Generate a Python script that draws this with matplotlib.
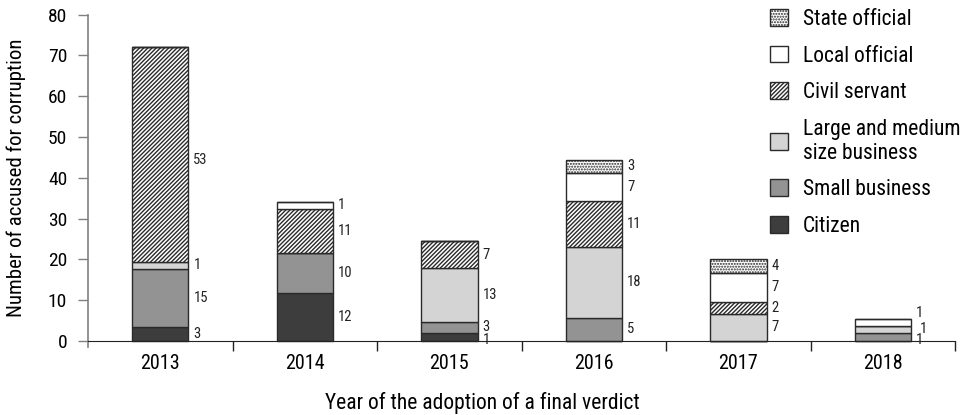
import matplotlib
matplotlib.use("Agg")
import matplotlib.pyplot as plt
import numpy as np

plt.rcParams['font.family'] = ['Roboto Condensed', 'DejaVu Sans']
plt.rcParams['hatch.linewidth'] = 1.0

years = ["2013", "2014", "2015", "2016", "2017", "2018"]

# bar heights as drawn in the figure (bottom to top)
citizen = [3.5, 11.7, 2.0, 0, 0, 0]
small_business = [14.1, 9.9, 2.7, 5.6, 0, 1.9]
large_business = [1.8, 0, 13.1, 17.5, 6.6, 1.8]
civil_servant = [52.7, 10.7, 6.7, 11.2, 3.0, 0]
local_official = [0, 1.8, 0, 6.8, 7.0, 1.7]
state_official = [0, 0, 0, 3.3, 3.5, 0]

# printed numbers next to each segment
citizen_lbl = ["3", "12", "1", "", "", ""]
small_business_lbl = ["15", "10", "3", "5", "", "1"]
large_business_lbl = ["1", "", "13", "18", "7", "1"]
civil_servant_lbl = ["53", "11", "7", "11", "2", ""]
local_official_lbl = ["", "1", "", "7", "7", "1"]
state_official_lbl = ["", "", "", "3", "4", ""]

series = [
    ("Citizen", citizen, citizen_lbl, dict(facecolor="#3d3d3d", hatch=None)),
    ("Small business", small_business, small_business_lbl, dict(facecolor="#939393", hatch=None)),
    ("Large and medium\nsize business", large_business, large_business_lbl, dict(facecolor="#d4d4d4", hatch=None)),
    ("Civil servant", civil_servant, civil_servant_lbl, dict(facecolor="white", hatch="////////")),
    ("Local official", local_official, local_official_lbl, dict(facecolor="white", hatch=None)),
    ("State official", state_official, state_official_lbl, dict(facecolor="white", hatch="......")),
]

# small nudges (points) for crowded labels: (year index, series index)
nudges = {(5, 1): (0, -2.5), (5, 2): (3, 0), (5, 4): (0, 7), (2, 0): (0, -2.5), (0, 3): (0, -4)}

fig = plt.figure(figsize=(9.64, 4.15), dpi=100)
ax = fig.add_axes([0.0913, 0.1639, 0.8997, 0.801])

x = np.arange(len(years))
width = 0.39
bottom = np.zeros(len(years))
handles = []
for si, (name, vals, lbls, style) in enumerate(series):
    vals = np.array(vals, dtype=float)
    bars = ax.bar(x, vals, width, bottom=bottom, edgecolor="#2a2a2a", linewidth=1.0,
                  label=name, **style)
    handles.append(bars)
    for i, (v, t) in enumerate(zip(vals, lbls)):
        if not t:
            continue
        dx, dy = nudges.get((i, si), (0, 0))
        ax.annotate(t, (x[i] + width / 2, bottom[i] + v / 2), xytext=(3.5 + dx, dy),
                    textcoords="offset points", ha="left", va="center", fontsize=10.5, color="#222222")
    bottom += vals

ax.set_xlim(-0.5, 5.5)
ax.set_ylim(-1.5, 80)
ax.set_yticks(range(0, 81, 10))
ax.set_xticks(x)
ax.set_xticklabels(years)
ax.set_xticks(np.arange(0.5, 6, 1), minor=True)
ax.tick_params(axis="x", which="major", length=0, pad=9.5, labelsize=14.5)
ax.tick_params(axis="x", which="minor", length=7, width=1, direction="out", color="#222222")
ax.tick_params(axis="y", length=7, width=1, color="#808080", pad=8, labelsize=14)

for s in ("top", "right"):
    ax.spines[s].set_visible(False)
ax.spines["bottom"].set_position(("data", 0))
ax.spines["bottom"].set_color("#222222")
ax.spines["left"].set_color("#808080")
ax.spines["left"].set_linewidth(1.2)

ax.set_ylabel("Number of accused for corruption", fontsize=15)
ax.yaxis.set_label_coords(-0.072, 0.51)
ax.set_xlabel("Year of the adoption of a final verdict", fontsize=15.5)
ax.xaxis.set_label_coords(0.455, -0.135)

fig.legend(handles[::-1], [s[0] for s in series][::-1], loc="upper left",
           bbox_to_anchor=(770 / 964, 1 - 9 / 415), frameon=False, fontsize=15.5,
           borderpad=0, borderaxespad=0,
           handlelength=0.82, handleheight=0.82, handletextpad=0.72, labelspacing=0.72)

fig.savefig("out.png", dpi=100)
